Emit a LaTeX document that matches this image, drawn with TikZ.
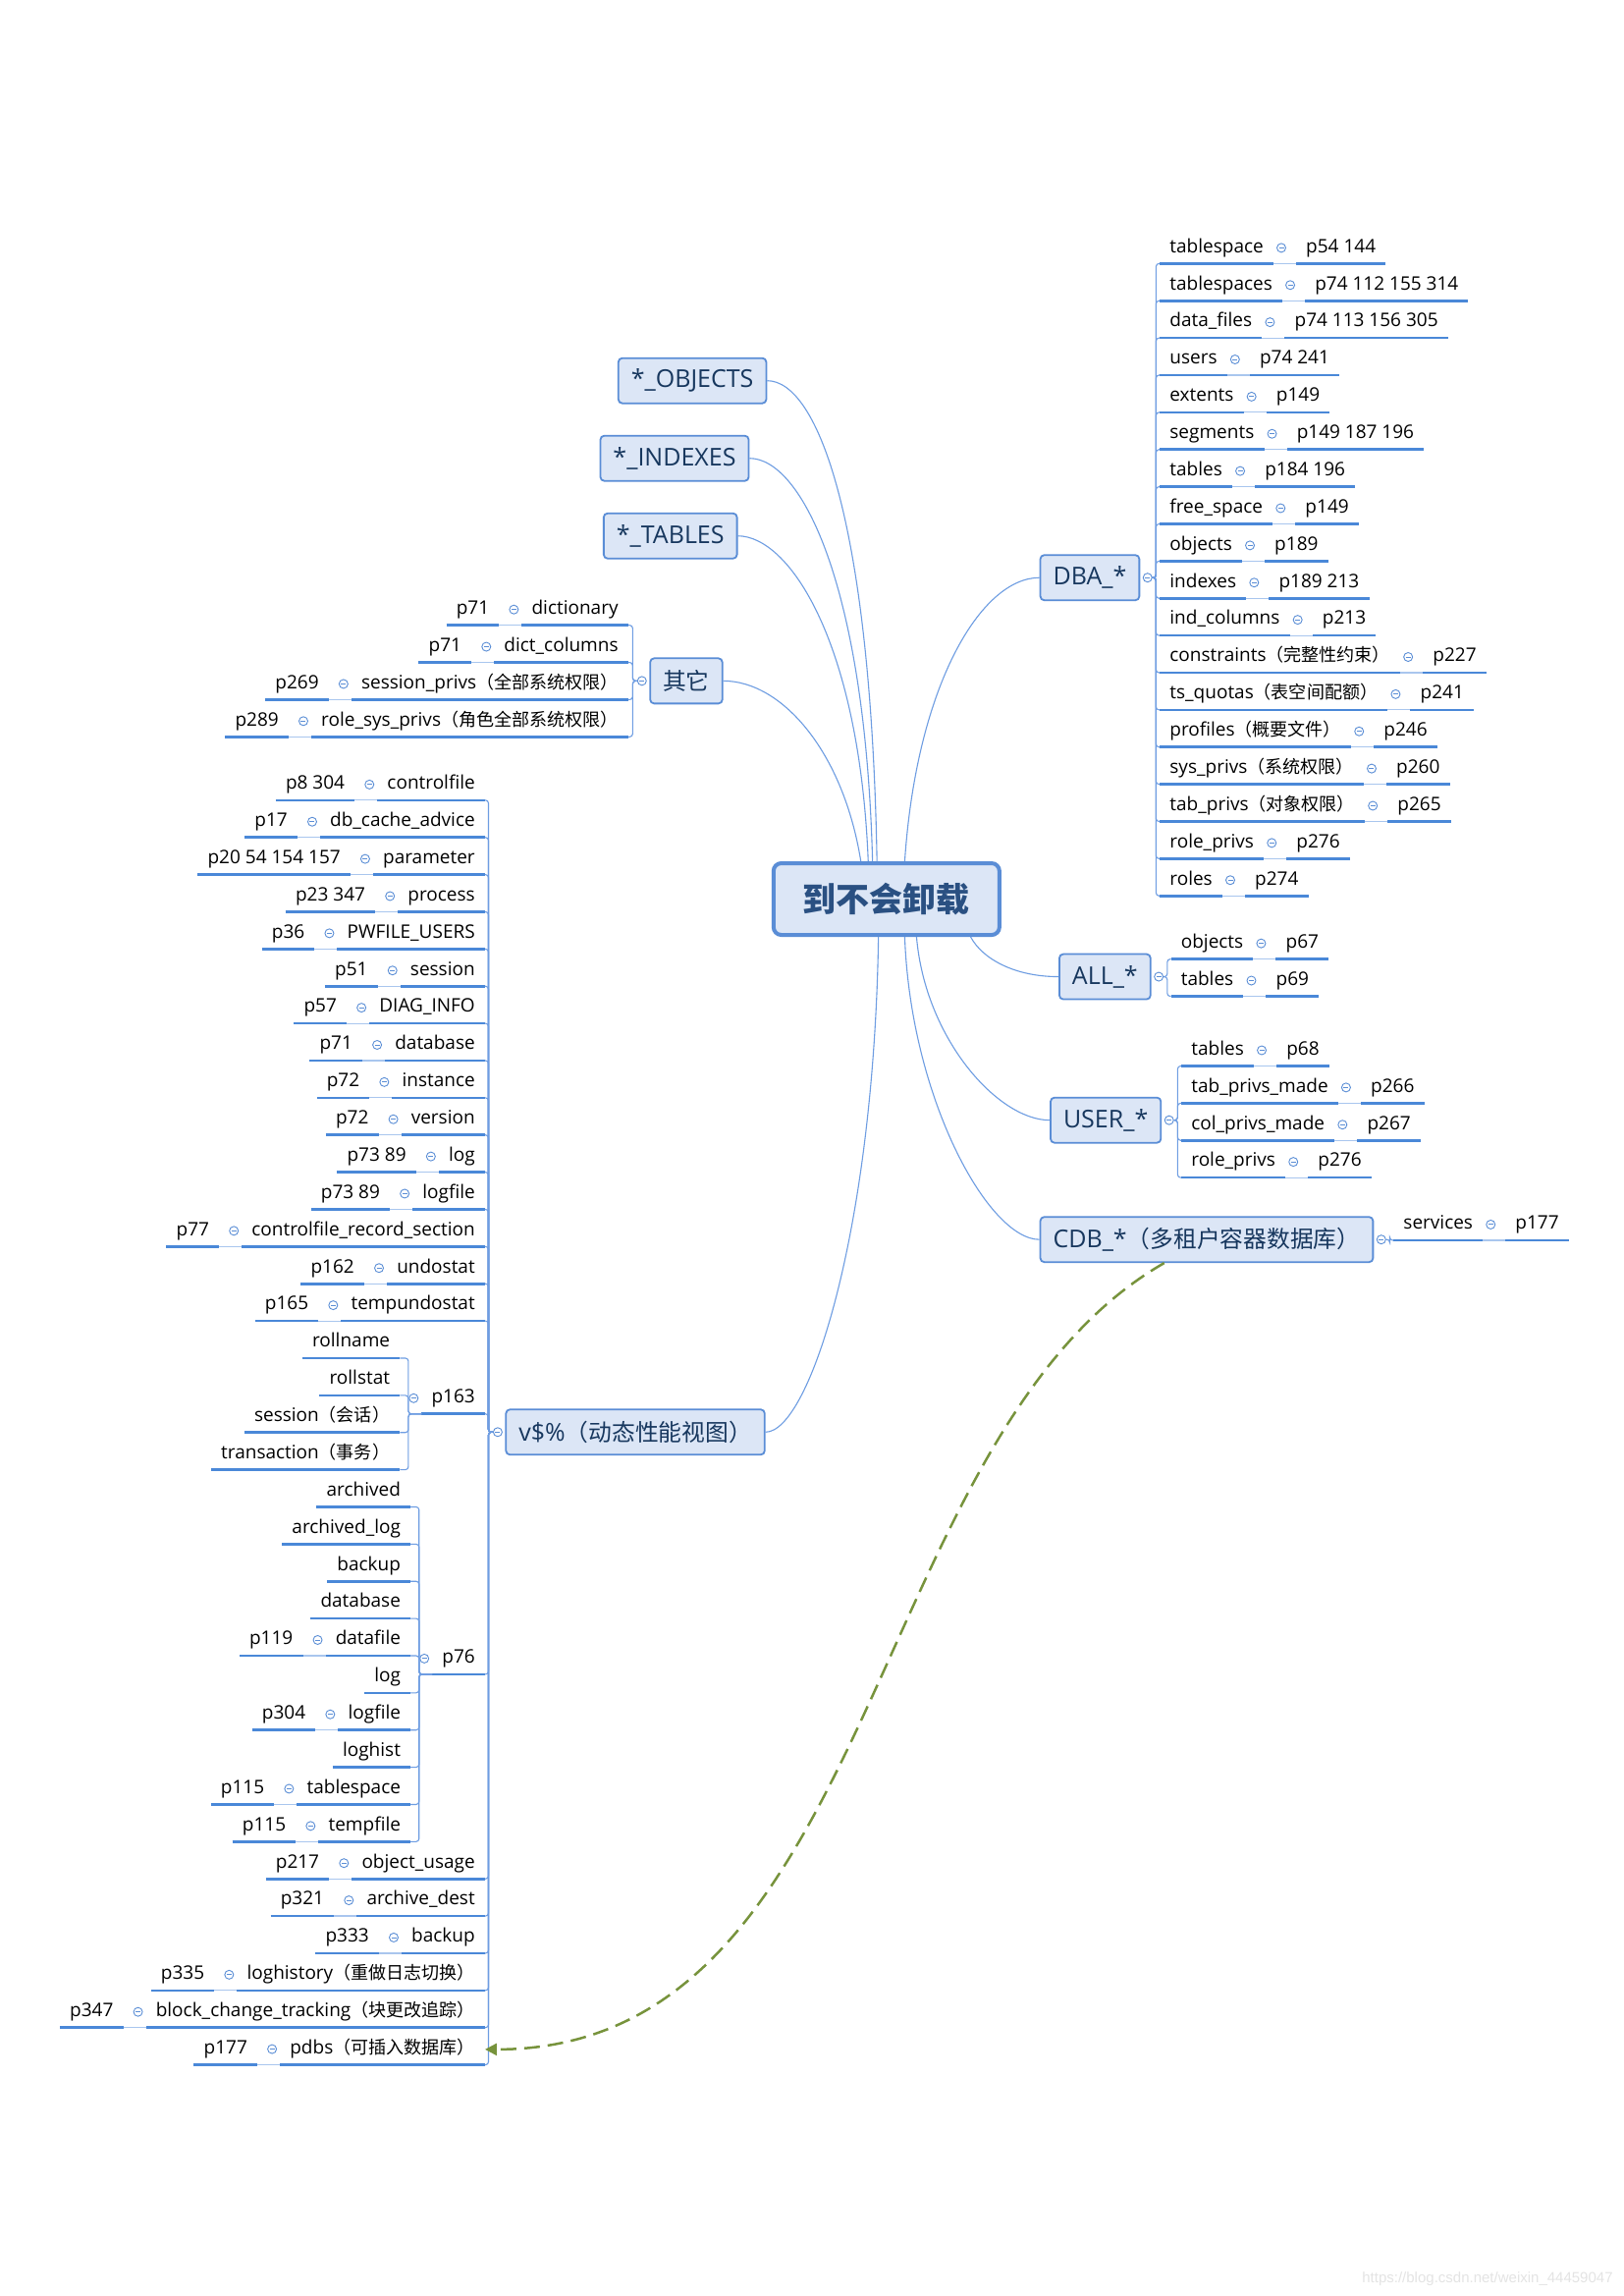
\documentclass[tikz,border=0pt]{standalone}
\usepackage{fontspec}
\setmainfont{Open Sans}
\newfontfamily\cjkfont[Scale=0.95]{Noto Sans CJK SC}
\newfontfamily\centralfam{Noto Sans CJK SC}
\newfontfamily\wmfam{Liberation Sans}
\usepackage{tikz}
\usetikzlibrary{calc,arrows.meta}
\usepackage{xcolor}
\definecolor{boxfill}{HTML}{DCE6F6}
\definecolor{boxline}{HTML}{5A8DD6}
\definecolor{boxtext}{HTML}{17375E}
\definecolor{roottext}{HTML}{2A5082}
\definecolor{branchblue}{HTML}{6E9DE2}
\definecolor{ulblue}{HTML}{4A88D8}
\definecolor{linkblue}{HTML}{A9C6EE}
\definecolor{foldblue}{HTML}{5B8ED6}
\definecolor{pdbgreen}{HTML}{77933C}
\definecolor{wmgray}{HTML}{E4E4E4}
\newcommand\zhs[1]{{\cjkfont #1}}
\newcommand\leaffont{\fontsize{19}{22}\selectfont}
\newcommand\topicfont{\fontsize{25}{30}\selectfont}

\tikzset{
  central/.style={draw=boxline, fill=boxfill, line width=4pt, rounded corners=8pt,
    text=roottext, font={\fontsize{34}{40}\centralfam\bfseries},
    minimum width=230pt, minimum height=73pt},
  topic/.style={draw=boxline, fill=boxfill, line width=1.8pt, rounded corners=4pt,
    text=boxtext, font=\topicfont, inner xsep=13pt, inner ysep=0pt, minimum height=46pt},
  leaf/.style={font=\leaffont, inner xsep=10pt, inner ysep=6pt, text height=14pt, text depth=5pt},
  uline/.style={draw=ulblue, line width=2.6pt},
  slink/.style={draw=linkblue, line width=1.2pt},
  branch/.style={draw=branchblue, line width=1.1pt},
  bracket/.style={draw=branchblue, line width=1.1pt, rounded corners=3pt},
  fold/.style={circle, draw=foldblue, fill=white, line width=0.9pt, minimum size=9pt, inner sep=0pt,
    path picture={\draw[foldblue, line width=0.9pt]
      ([xshift=-2.5pt]path picture bounding box.center) -- ([xshift=2.5pt]path picture bounding box.center);}},
  pdblink/.style={draw=pdbgreen, line width=2.5pt, dash pattern=on 16pt off 8pt,
    -{Triangle[length=12pt,width=12pt]}}
}

\begin{document}
\begin{tikzpicture}[x=1.4906pt, y=-1.4906pt]
  \path[use as bounding box, fill=white] (0,0) rectangle (1109,1568);

  % central topic
  \node[central] (root) at (605.5,614) {到不会卸载};

  % main topics
  \node[topic, anchor=east] (objs) at (524,260) {*\_OBJECTS};
  \node[topic, anchor=east] (idx) at (512,313) {*\_INDEXES};
  \node[topic, anchor=east] (tbls) at (504,366) {*\_TABLES};
  \node[topic, anchor=west] (qita) at (443.5,465) {\zhs{其它}};
  \node[topic, anchor=west] (vview) at (345,978) {v\$\%\zhs{（动态性能视图）}};
  \node[topic, anchor=west] (dba) at (710,394.5) {DBA\_*};
  \node[topic, anchor=west] (allv) at (723,667) {ALL\_*};
  \node[topic, anchor=west] (userv) at (717,765) {USER\_*};
  \node[topic, anchor=west] (cdb) at (710,846.5) {CDB\_*\zhs{（多租户容器数据库）}};

  % fold markers of the main topics
  \node[fold] (qitaf) at ([xshift=-7.5pt]qita.west) {};
  \node[fold] (vf) at ([xshift=-7.5pt]vview.west) {};
  \node[fold] (dbaf) at ([xshift=7.5pt]dba.east) {};
  \node[fold] (allf) at ([xshift=7.5pt]allv.east) {};
  \node[fold] (userf) at ([xshift=7.5pt]userv.east) {};
  \node[fold] (cdbf) at ([xshift=7.5pt]cdb.east) {};

  % curves out of the central topic
  \draw[branch] (objs.east) .. controls +(35,0) and +(-4,-230) .. ([xshift=-9.7pt]root.north);
  \draw[branch] (idx.east) .. controls +(35,0) and +(-5,-190) .. ([xshift=-14.2pt]root.north);
  \draw[branch] (tbls.east) .. controls +(35,0) and +(-6,-150) .. ([xshift=-18.6pt]root.north);
  \draw[branch] (qita.east) .. controls +(40,0) and +(-12,-75) .. ([xshift=-26.1pt]root.north);
  \draw[branch] (dba.west) .. controls +(-40,0) and +(8,-120) .. ([xshift=18.6pt]root.north);
  \draw[branch] (vview.east) .. controls +(30,0) and +(-3,200) .. ([xshift=-8.2pt]root.south);
  \draw[branch] (allv.west) .. controls +(-30,0) and +(8,15) .. ([xshift=85.7pt]root.south);
  \draw[branch] (userv.west) .. controls +(-35,0) and +(6,70) .. ([xshift=30.6pt]root.south);
  \draw[branch] (cdb.west) .. controls +(-35,0) and +(4,110) .. ([xshift=18.6pt]root.south);

  % right side leaves: name, fold, page
  \foreach \grp/\yy/\list in {%
      dba/180/{tablespace/p54 144, tablespaces/p74 112 155 314, data\_files/p74 113 156 305,
        users/p74 241, extents/p149, segments/p149 187 196, tables/p184 196, free\_space/p149,
        objects/p189, indexes/p189 213, ind\_columns/p213, constraints\zhs{（完整性约束）}/p227,
        ts\_quotas\zhs{（表空间配额）}/p241, profiles\zhs{（概要文件）}/p246,
        sys\_privs\zhs{（系统权限）}/p260, tab\_privs\zhs{（对象权限）}/p265,
        role\_privs/p276, roles/p274},
      all/655/{objects/p67, tables/p69},
      user/728/{tables/p68, tab\_privs\_made/p266, col\_privs\_made/p267, role\_privs/p276},
      cdb/847/{services/p177}}{
    \coordinate (\grp b) at ([xshift=7.5pt]\grp f.east);
    \foreach \nm/\pg [count=\i] in \list {
      \pgfmathsetmacro\yrow{\yy+25.4*(\i-1)}
      \coordinate (row) at (0,\yrow);
      \node[leaf, anchor=south west] (\grp\i) at (\grp b |- row) {\nm};
      \node[leaf, anchor=south west] (\grp p\i) at ([xshift=23pt]\grp\i.south east) {\pg};
      \draw[uline] (\grp\i.south west) -- (\grp\i.south east) (\grp p\i.south west) -- (\grp p\i.south east);
      \draw[slink] (\grp\i.south east) -- (\grp p\i.south west);
      \draw[bracket] (\grp f.east) -- ++(2.5,0) |- (\grp\i.south west);
      \node[fold] at ([xshift=8pt,yshift=16pt]\grp\i.south east) {};
    }
  }

  % 其它 leaves
  \coordinate (qitab) at ([xshift=-9pt]qitaf.west);
  \foreach \nm/\pg [count=\i] in {dictionary/p71, dict\_columns/p71,
      session\_privs\zhs{（全部系统权限）}/p269, role\_sys\_privs\zhs{（角色全部系统权限）}/p289}{
    \pgfmathsetmacro\yrow{427+25.4*(\i-1)}
    \coordinate (row) at (0,\yrow);
    \node[leaf, anchor=south east] (qita\i) at (qitab |- row) {\nm};
    \node[leaf, anchor=south east] (qitap\i) at ([xshift=-23pt]qita\i.south west) {\pg};
    \draw[uline] (qita\i.south west) -- (qita\i.south east) (qitap\i.south west) -- (qitap\i.south east);
    \draw[slink] (qitap\i.south east) -- (qita\i.south west);
    \draw[bracket] (qitaf.west) -- ++(-3,0) |- (qita\i.south east);
    \node[fold] at ([xshift=-8pt,yshift=16pt]qita\i.south west) {};
  }

  % v$% leaves
  \coordinate (vb) at ([xshift=-8pt]vf.west);
  \foreach \k/\nm in {0/controlfile, 1/db\_cache\_advice, 2/parameter, 3/process, 4/PWFILE\_USERS,
      5/session, 6/DIAG\_INFO, 7/database, 8/instance, 9/version, 10/log, 11/logfile,
      12/controlfile\_record\_section, 13/undostat, 14/tempundostat, 29/object\_usage,
      30/archive\_dest, 31/backup, 32/loghistory\zhs{（重做日志切换）},
      33/block\_change\_tracking\zhs{（块更改追踪）}, 34/pdbs\zhs{（可插入数据库）}}{
    \pgfmathsetmacro\yrow{546.5+25.4*\k}
    \coordinate (row) at (0,\yrow);
    \node[leaf, anchor=south east] (v\k) at (vb |- row) {\nm};
    \draw[uline] (v\k.south west) -- (v\k.south east);
    \draw[bracket] (vf.west) -- ++(-3,0) |- (v\k.south east);
  }
  \coordinate (row) at (0,965.6);
  \node[leaf, anchor=south east] (p163) at (vb |- row) {p163};
  \coordinate (row) at (0,1143.4);
  \node[leaf, anchor=south east] (p76) at (vb |- row) {p76};
  \foreach \sub in {p163,p76}{
    \draw[uline] (\sub.south west) -- (\sub.south east);
    \draw[bracket] (vf.west) -- ++(-3,0) |- (\sub.south east);
    \node[fold] at ([xshift=-8pt,yshift=16pt]\sub.south west) {};
  }
  \foreach \sub/\first/\list in {p163/15/{rollname, rollstat, session\zhs{（会话）}, transaction\zhs{（事务）}},
      p76/19/{archived, archived\_log, backup, database, datafile, log, logfile, loghist,
        tablespace, tempfile}}{
    \coordinate (\sub b) at ([xshift=-22pt]\sub.south west);
    \foreach \nm [count=\k from \first] in \list {
      \pgfmathsetmacro\yrow{546.5+25.4*\k}
      \coordinate (row) at (0,\yrow);
      \node[leaf, anchor=south east] (v\k) at (\sub b |- row) {\nm};
      \draw[uline] (v\k.south west) -- (v\k.south east);
      \draw[bracket] (\sub.south west) -- ++(-9,0) |- (v\k.south east);
    }
  }
  % page numbers of the v$% leaves
  \foreach \k/\pg in {0/p8 304, 1/p17, 2/p20 54 154 157, 3/p23 347, 4/p36, 5/p51, 6/p57, 7/p71,
      8/p72, 9/p72, 10/p73 89, 11/p73 89, 12/p77, 13/p162, 14/p165, 23/p119, 25/p304,
      27/p115, 28/p115, 29/p217, 30/p321, 31/p333, 32/p335, 33/p347, 34/p177}{
    \node[leaf, anchor=south east] (vp\k) at ([xshift=-23pt]v\k.south west) {\pg};
    \draw[uline] (vp\k.south west) -- (vp\k.south east);
    \draw[slink] (vp\k.south east) -- (v\k.south west);
    \node[fold] at ([xshift=-8pt,yshift=16pt]v\k.south west) {};
  }

  % CDB_* points to pdbs
  \draw[pdblink] ([xshift=127pt]cdb.south west) .. controls (590,980) and (600,1400) .. (v34.east);

  % watermark
  \node[anchor=east, text=wmgray, font={\fontsize{15}{18}\wmfam}] (wm) at (1104,1556)
    {https://blog.csdn.net/weixin\_44459047};
\end{tikzpicture}
\end{document}
